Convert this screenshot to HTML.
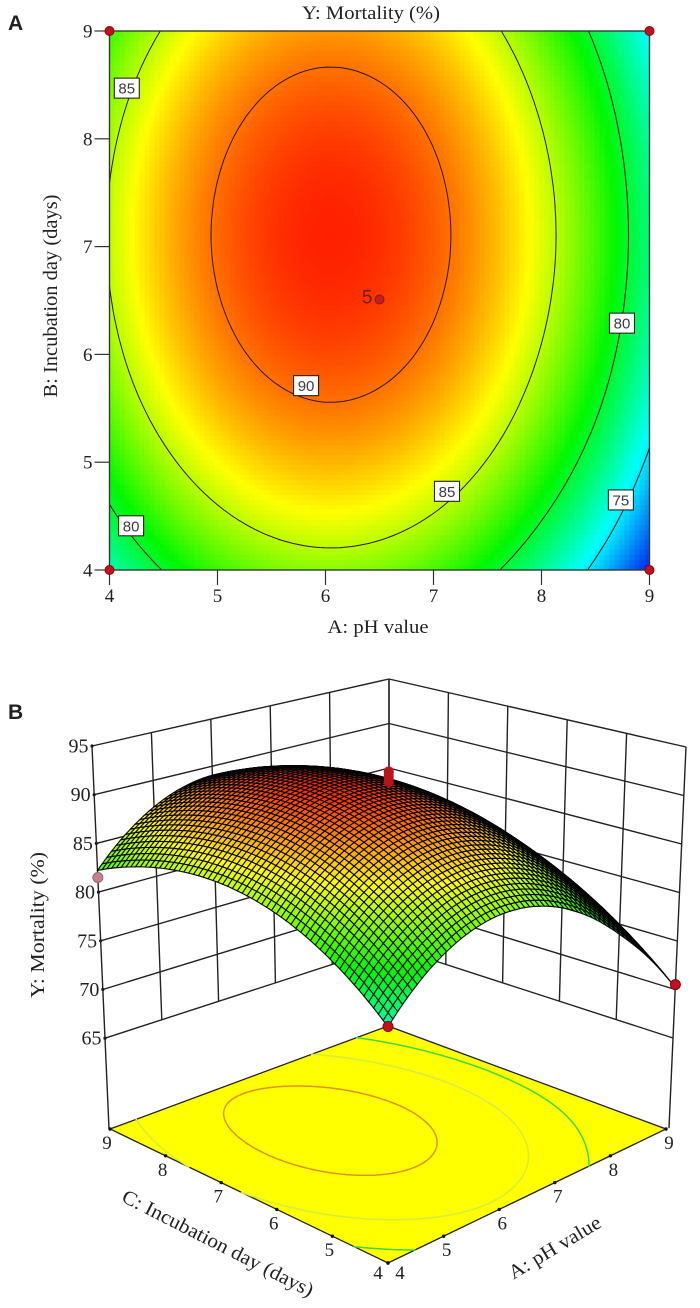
<!DOCTYPE html>
<html lang="en">
<head>
<meta charset="utf-8">
<title>Mortality response surface</title>
<style>
html,body{margin:0;padding:0;background:#fff;}
svg{display:block;filter:blur(0.35px);}
text{font-family:"Liberation Serif",serif;fill:#222;}
.sans{font-family:"Liberation Sans",sans-serif;}
</style>
</head>
<body>
<svg id="root" xmlns="http://www.w3.org/2000/svg" width="700" height="1308" viewBox="0 0 700 1308">
  <rect width="700" height="1308" fill="#fff"/>
  <text class="sans" x="8" y="30" font-size="21" font-weight="700">A</text>
  <text class="sans" x="8" y="719" font-size="21" font-weight="700">B</text>
  <text x="371" y="19" text-anchor="middle" font-size="19" textLength="138" lengthAdjust="spacingAndGlyphs">Y: Mortality (%)</text>
  <text x="378" y="633" text-anchor="middle" font-size="19" textLength="101" lengthAdjust="spacingAndGlyphs">A: pH value</text>
  <text transform="translate(57,296) rotate(-90)" text-anchor="middle" font-size="19.5" textLength="203" lengthAdjust="spacingAndGlyphs">B: Incubation day (days)</text>
  <text transform="translate(44,925) rotate(-90)" text-anchor="middle" font-size="20" textLength="146" lengthAdjust="spacingAndGlyphs">Y: Mortality (%)</text>
  <text transform="translate(215,1249) rotate(27)" text-anchor="middle" font-size="20" textLength="212" lengthAdjust="spacingAndGlyphs">C: Incubation day (days)</text>
  <text transform="translate(558,1253) rotate(-31)" text-anchor="middle" font-size="20" textLength="104" lengthAdjust="spacingAndGlyphs">A: pH value</text>
  <g id="heat"></g>
  <g id="contours"></g>
  <g id="frameA"></g>
  <g id="labelsA"></g>
  <g id="dotsA"></g>
  <g id="walls"></g>
  <g id="floor"></g>
  <g id="mesh"></g>
  <g id="dotsB"></g>
</svg>
<script>
/* ---------- data ---------- */
const phValues = [4, 4.5, 5, 5.5, 6, 6.5, 7, 7.5, 8, 8.5, 9];
const dayValues = [9, 8.5, 8, 7.5, 7, 6.5, 6, 5.5, 5, 4.5, 4];
const mortalityGrid = [
  [82.23, 85.15, 87.25, 88.55, 89.04, 88.71, 87.58, 85.63, 82.88, 79.52, 75.29],
  [83.59, 86.51, 88.61, 89.91, 90.40, 90.07, 88.94, 86.99, 84.24, 80.88, 76.65],
  [84.53, 87.45, 89.55, 90.85, 91.34, 91.01, 89.88, 87.93, 85.18, 81.82, 77.59],
  [85.06, 87.98, 90.08, 91.38, 91.87, 91.54, 90.41, 88.46, 85.71, 82.35, 78.12],
  [85.18, 88.10, 90.20, 91.50, 91.99, 91.66, 90.53, 88.58, 85.83, 82.47, 78.24],
  [84.88, 87.80, 89.90, 91.20, 91.69, 91.36, 90.23, 88.28, 85.53, 82.17, 77.94],
  [84.17, 87.09, 89.19, 90.49, 90.98, 90.65, 89.52, 87.57, 84.82, 81.46, 77.23],
  [83.04, 85.96, 88.06, 89.36, 89.85, 89.52, 88.39, 86.44, 83.69, 80.33, 76.10],
  [81.49, 84.41, 86.51, 87.81, 88.30, 87.97, 86.84, 84.89, 82.14, 78.78, 74.55],
  [79.54, 82.46, 84.56, 85.86, 86.35, 86.02, 84.89, 82.94, 80.19, 76.83, 72.60],
  [77.16, 80.08, 82.18, 83.48, 83.97, 83.64, 82.51, 80.56, 77.81, 74.45, 70.22]
];
const contourLevels = [75, 80, 85, 90];
const floorLevels = [80, 85, 90];
const floorLevelColors = ['#3ed84a', '#d4ec3a', '#dc9418'];
const axisTicks = [4, 5, 6, 7, 8, 9];
const mortalityTicks = [65, 70, 75, 80, 85, 90, 95];
const labelValues = [85, 90, 85, 80, 75, 80];
const labelPh = [4.16, 5.82, 7.125, 8.745, 8.735, 4.2];
const labelDay = [8.47, 5.71, 4.73, 6.29, 4.65, 4.41];
const cornerPh = [4, 9, 4, 9];
const cornerDay = [9, 9, 4, 4];
const centerPh = 6.5;
const centerDay = 6.5;
const centerRuns = 5;
const surfacePointPh = [4, 4, 9];
const surfacePointDay = [9, 4, 4];
const surfacePointMortality = [81.5, 77.2, 70.5];
const replicateMortality = [91.8, 92.1, 92.4, 92.7, 92.9];
const rampStops = [69.5, 75.5, 81, 86.5, 92.8];
const rampColors = [[0, 0, 235], [0, 255, 255], [0, 248, 0], [255, 255, 0], [255, 0, 0]];

/* ---------- helpers ---------- */
const NS = 'http://www.w3.org/2000/svg';
function mk(tag, attrs, parent) {
  const el = document.createElementNS(NS, tag);
  for (const k in attrs) el.setAttribute(k, attrs[k]);
  if (parent) parent.appendChild(el);
  return el;
}
function ramp(z) {
  let i = 0;
  while (i < rampStops.length - 2 && z > rampStops[i + 1]) i++;
  let t = (z - rampStops[i]) / (rampStops[i + 1] - rampStops[i]);
  t = Math.max(0, Math.min(1, t));
  const a = rampColors[i], b = rampColors[i + 1];
  return 'rgb(' + Math.round(a[0] + (b[0] - a[0]) * t) + ',' + Math.round(a[1] + (b[1] - a[1]) * t) + ',' + Math.round(a[2] + (b[2] - a[2]) * t) + ')';
}
function ext(get, i, n) {
  if (i < 0) return 3 * get(0) - 3 * get(1) + get(2);
  if (i >= n) return 3 * get(n - 1) - 3 * get(n - 2) + get(n - 3);
  return get(i);
}
function spline(p0, p1, p2, p3, t) {
  return 0.5 * (2 * p1 + (p2 - p0) * t + (2 * p0 - 5 * p1 + 4 * p2 - p3) * t * t + (3 * p1 - p0 - 3 * p2 + p3) * t * t * t);
}
function surfaceAt(u, v) {
  const nu = phValues.length, nv = dayValues.length;
  const fu = (u - phValues[0]) / (phValues[1] - phValues[0]);
  const fv = (v - dayValues[0]) / (dayValues[1] - dayValues[0]);
  const iu = Math.min(nu - 2, Math.max(0, Math.floor(fu)));
  const iv = Math.min(nv - 2, Math.max(0, Math.floor(fv)));
  const tu = fu - iu, tv = fv - iv;
  const rowAt = function (r) {
    const row = mortalityGrid[r];
    const g = function (k) { return row[k]; };
    return spline(ext(g, iu - 1, nu), ext(g, iu, nu), ext(g, iu + 1, nu), ext(g, iu + 2, nu), tu);
  };
  const rr = function (r) { return rowAt(r); };
  return spline(ext(rr, iv - 1, nv), ext(rr, iv, nv), ext(rr, iv + 1, nv), ext(rr, iv + 2, nv), tv);
}
/* marching squares over a pH/day lattice */
const LAT = 108;
const latU = function (i) { return phValues[0] + (phValues[phValues.length - 1] - phValues[0]) * i / LAT; };
const latV = function (j) { return dayValues[0] + (dayValues[dayValues.length - 1] - dayValues[0]) * j / LAT; };
const lattice = [];
for (let j = 0; j <= LAT; j++) {
  const r = [];
  for (let i = 0; i <= LAT; i++) r.push(surfaceAt(latU(i), latV(j)));
  lattice.push(r);
}
function contourPath(level, mapFn) {
  let d = '';
  const cross = function (i0, j0, i1, j1) {
    const a = lattice[j0][i0], b = lattice[j1][i1];
    const t = (level - a) / (b - a);
    const p = mapFn(latU(i0 + (i1 - i0) * t), latV(j0 + (j1 - j0) * t));
    return p[0].toFixed(1) + ' ' + p[1].toFixed(1);
  };
  for (let j = 0; j < LAT; j++) {
    for (let i = 0; i < LAT; i++) {
      const pts = [];
      if ((lattice[j][i] >= level) !== (lattice[j][i + 1] >= level)) pts.push(cross(i, j, i + 1, j));
      if ((lattice[j][i + 1] >= level) !== (lattice[j + 1][i + 1] >= level)) pts.push(cross(i + 1, j, i + 1, j + 1));
      if ((lattice[j + 1][i + 1] >= level) !== (lattice[j + 1][i] >= level)) pts.push(cross(i + 1, j + 1, i, j + 1));
      if ((lattice[j + 1][i] >= level) !== (lattice[j][i] >= level)) pts.push(cross(i, j + 1, i, j));
      if (pts.length >= 2) d += 'M' + pts[0] + 'L' + pts[1];
      if (pts.length === 4) d += 'M' + pts[2] + 'L' + pts[3];
    }
  }
  return d;
}

/* ---------- panel A ---------- */
const xA = function (u) { return 109.5 + (u - 4) * 108; };
const yA = function (v) { return 570 - (v - 4) * 107.8; };
const heat = document.getElementById('heat');
const heatFrag = document.createDocumentFragment();
for (let j = 0; j < LAT; j++) {
  for (let i = 0; i < LAT; i++) {
    const z = (lattice[j][i] + lattice[j][i + 1] + lattice[j + 1][i] + lattice[j + 1][i + 1]) / 4;
    const x0 = xA(latU(i)), x1 = xA(latU(i + 1)), y0 = yA(latV(j)), y1 = yA(latV(j + 1));
    const cell = mk('rect', { x: x0, y: y0, width: x1 - x0 + 0.4, height: y1 - y0 + 0.4, fill: ramp(z), 'shape-rendering': 'crispEdges' }, heatFrag);
    
    
  }
}
heat.appendChild(heatFrag);

const contoursG = document.getElementById('contours');
contourLevels.forEach(function (level) {
  const line = mk('path', { d: contourPath(level, function (u, v) { return [xA(u), yA(v)]; }), fill: 'none', stroke: '#2a1712', 'stroke-width': 1, 'stroke-linecap': 'round' }, contoursG);
  
  
});

const frameA = document.getElementById('frameA');
const frameRect = mk('rect', { x: xA(4), y: yA(9), width: xA(9) - xA(4), height: yA(4) - yA(9), fill: 'none', stroke: '#333a36', 'stroke-width': 1.4 }, frameA);


axisTicks.forEach(function (t) {
  const tx = mk('line', { x1: xA(t), x2: xA(t), y1: yA(4), y2: yA(4) + 15, stroke: '#333', 'stroke-width': 1.2 }, frameA);
  
  
  const lx = mk('text', { x: xA(t), y: yA(4) + 32, 'text-anchor': 'middle', 'font-size': 19 }, frameA);
  lx.textContent = t;
  
  
  const ty = mk('line', { x1: xA(4) - 15, x2: xA(4), y1: yA(t), y2: yA(t), stroke: '#333', 'stroke-width': 1.2 }, frameA);
  
  
  const ly = mk('text', { x: xA(4) - 17, y: yA(t) + 6.5, 'text-anchor': 'end', 'font-size': 19 }, frameA);
  ly.textContent = t;
  
  
});

const labelsA = document.getElementById('labelsA');
labelValues.forEach(function (val, i) {
  const cx = xA(labelPh[i]), cy = yA(labelDay[i]);
  const box = mk('rect', { x: cx - 12.5, y: cy - 10, width: 25, height: 20, fill: '#fff', stroke: '#222', 'stroke-width': 1.1 }, labelsA);
  
  
  const tx = mk('text', { class: 'sans', x: cx, y: cy + 5.5, 'text-anchor': 'middle', 'font-size': 15, style: 'fill:#3a3a44' }, labelsA);
  tx.textContent = val;
  
  
});

const dotsA = document.getElementById('dotsA');
cornerPh.forEach(function (p, i) {
  const dot = mk('circle', { cx: xA(p), cy: yA(cornerDay[i]), r: 4.5, fill: '#c8101c', stroke: '#7a0a10', 'stroke-width': 1 }, dotsA);
  
  
});
const centerDot = mk('circle', { cx: xA(centerPh), cy: yA(centerDay) - 1, r: 4.5, fill: '#c41c28', stroke: '#8a1818', 'stroke-width': 1 }, dotsA);


const centerCount = mk('text', { class: 'sans', x: xA(centerPh) - 7, y: yA(centerDay) + 3, 'text-anchor': 'end', 'font-size': 19, style: 'fill:#6e1c14' }, dotsA);
centerCount.textContent = centerRuns;



/* ---------- panel B : 3D projection ---------- */
const fracA = function (a) { return (a - 4) / 5; };
const fracC = function (c) { return (c - 4) / 5; };
function cornerLeft(z) { return [92 + (95 - z) * 0.433, 746 + (95 - z) * 9.74]; }
function cornerRight(z) { return [686 - (95 - z) * 0.433, 747 + (95 - z) * 9.7]; }
function cornerBack(z) { return [389, 679 + (95 - z) * 8.9]; }
function cornerFront(z) { return [388, 1263 - (z - 55.7) * 11]; }
const FLOOR_Z = 55.7;
function project(a, c, z) {
  const s = fracA(a), t = fracC(c);
  const F = cornerFront(z), R = cornerRight(z), B = cornerBack(z), L = cornerLeft(z);
  return [
    (1 - s) * (1 - t) * F[0] + s * (1 - t) * R[0] + s * t * B[0] + (1 - s) * t * L[0],
    (1 - s) * (1 - t) * F[1] + s * (1 - t) * R[1] + s * t * B[1] + (1 - s) * t * L[1]
  ];
}
function floorPoint(a, c) {
  const s = fracA(a), t = fracC(c);
  const F = [388, 1263], R = [666, 1129], B = [388, 1026], L = [110, 1129];
  return [
    (1 - s) * (1 - t) * F[0] + s * (1 - t) * R[0] + s * t * B[0] + (1 - s) * t * L[0] + 16 * s * (1 - s) * t * (1 - t) * 2,
    (1 - s) * (1 - t) * F[1] + s * (1 - t) * R[1] + s * t * B[1] + (1 - s) * t * L[1] - 16 * s * (1 - s) * t * (1 - t) * 5
  ];
}
const walls = document.getElementById('walls');
const zMin = mortalityTicks[0], zMax = mortalityTicks[mortalityTicks.length - 1];
function wallLine(p, q, name) {
  const l = mk('line', { x1: p[0], y1: p[1], x2: q[0], y2: q[1], stroke: '#222', 'stroke-width': 1.4 }, walls);
  
  
}
mortalityTicks.forEach(function (z) {
  wallLine(cornerLeft(z), cornerBack(z), 'left-wall-gridline-' + z);
  wallLine(cornerBack(z), cornerRight(z), 'right-wall-gridline-' + z);
  const p = cornerLeft(z);
  const lab = mk('text', { x: p[0] - 3.5, y: p[1] + 6.5, 'text-anchor': 'end', 'font-size': 20 }, walls);
  lab.textContent = z;
  
  
  const tick = mk('circle', { cx: p[0], cy: p[1], r: 1.6, fill: '#111' }, walls);
  
  
});
axisTicks.forEach(function (t) {
  const s = fracC(t);
  const lTop = [cornerLeft(zMax)[0] * s + cornerBack(zMax)[0] * (1 - s), cornerLeft(zMax)[1] * s + cornerBack(zMax)[1] * (1 - s)];
  const lBot = [cornerLeft(zMin)[0] * s + cornerBack(zMin)[0] * (1 - s), cornerLeft(zMin)[1] * s + cornerBack(zMin)[1] * (1 - s)];
  const r = fracA(t);
  const rTop = [cornerRight(zMax)[0] * r + cornerBack(zMax)[0] * (1 - r), cornerRight(zMax)[1] * r + cornerBack(zMax)[1] * (1 - r)];
  const rBot = [cornerRight(zMin)[0] * r + cornerBack(zMin)[0] * (1 - r), cornerRight(zMin)[1] * r + cornerBack(zMin)[1] * (1 - r)];
  wallLine(lTop, lBot, 'left-wall-vertical-' + t);
  wallLine(rTop, rBot, 'right-wall-vertical-' + t);
});
wallLine(cornerLeft(zMin), cornerLeft(FLOOR_Z), 'left-wall-drop-line');
wallLine(cornerRight(zMin), cornerRight(FLOOR_Z), 'right-wall-drop-line');

const floorG = document.getElementById('floor');
const fc = [floorPoint(4, 4), floorPoint(9, 4), floorPoint(9, 9), floorPoint(4, 9)];
const floorPoly = mk('polygon', { points: fc.map(function (p) { return p.join(','); }).join(' '), fill: '#ffff00', stroke: '#222', 'stroke-width': 1.3 }, floorG);


floorLevels.forEach(function (level, i) {
  const c = mk('path', { d: contourPath(level, floorPoint), fill: 'none', stroke: floorLevelColors[i], 'stroke-width': 1.5, 'stroke-linecap': 'round' }, floorG);
  
  
});
axisTicks.forEach(function (t) {
  const pa = floorPoint(t, 4), pc = floorPoint(4, t);
  const ta = mk('circle', { cx: pa[0], cy: pa[1], r: 1.7, fill: '#111' }, floorG);
  
  
  const tc = mk('circle', { cx: pc[0], cy: pc[1], r: 1.7, fill: '#111' }, floorG);
  
  
  const la = mk('text', { x: pa[0] + 3 + (t === 4 ? 9 : 0), y: pa[1] + 20 + (t === 4 ? -4 : 0), 'text-anchor': 'middle', 'font-size': 19 }, floorG);
  la.textContent = t;
  
  
  const lc = mk('text', { x: pc[0] - 3 - (t === 4 ? 7 : 0), y: pc[1] + 20 + (t === 4 ? -4 : 0), 'text-anchor': 'middle', 'font-size': 19 }, floorG);
  lc.textContent = t;
  
  
});

const MESH = 60;
const meshG = document.getElementById('mesh');
const meshFrag = document.createDocumentFragment();
const meshA = function (i) { return 4 + 5 * i / MESH; };
const meshC = function (j) { return 4 + 5 * j / MESH; };
const meshZ = [];
for (let j = 0; j <= MESH; j++) {
  const r = [];
  for (let i = 0; i <= MESH; i++) r.push(surfaceAt(meshA(i), meshC(j)));
  meshZ.push(r);
}
for (let j = MESH - 1; j >= 0; j--) {
  for (let i = MESH - 1; i >= 0; i--) {
    const z00 = meshZ[j][i], z10 = meshZ[j][i + 1], z11 = meshZ[j + 1][i + 1], z01 = meshZ[j + 1][i];
    const pts = [project(meshA(i), meshC(j), z00), project(meshA(i + 1), meshC(j), z10), project(meshA(i + 1), meshC(j + 1), z11), project(meshA(i), meshC(j + 1), z01)];
    const quad = mk('polygon', {
      points: pts.map(function (p) { return p[0].toFixed(1) + ',' + p[1].toFixed(1); }).join(' '),
      fill: ramp((z00 + z10 + z11 + z01) / 4), stroke: '#050505', 'stroke-width': 1.1
    }, meshFrag);
    
    
  }
}
meshG.appendChild(meshFrag);

const dotsB = document.getElementById('dotsB');
surfacePointPh.forEach(function (p, i) {
  const q = project(p, surfacePointDay[i], surfacePointMortality[i]);
  const dim = i === 0;
  const d = mk('circle', { cx: q[0], cy: q[1], r: 5, fill: dim ? '#c98088' : '#c8101c', stroke: dim ? '#8a6a6a' : '#7a0a10', 'stroke-width': 1 }, dotsB);
  
  
});
replicateMortality.forEach(function (z) {
  const q = project(centerPh, centerDay, z);
  const d = mk('circle', { cx: q[0], cy: q[1], r: 5, fill: '#b8141e', stroke: 'none' }, dotsB);
  
  
});
</script>
</body>
</html>
